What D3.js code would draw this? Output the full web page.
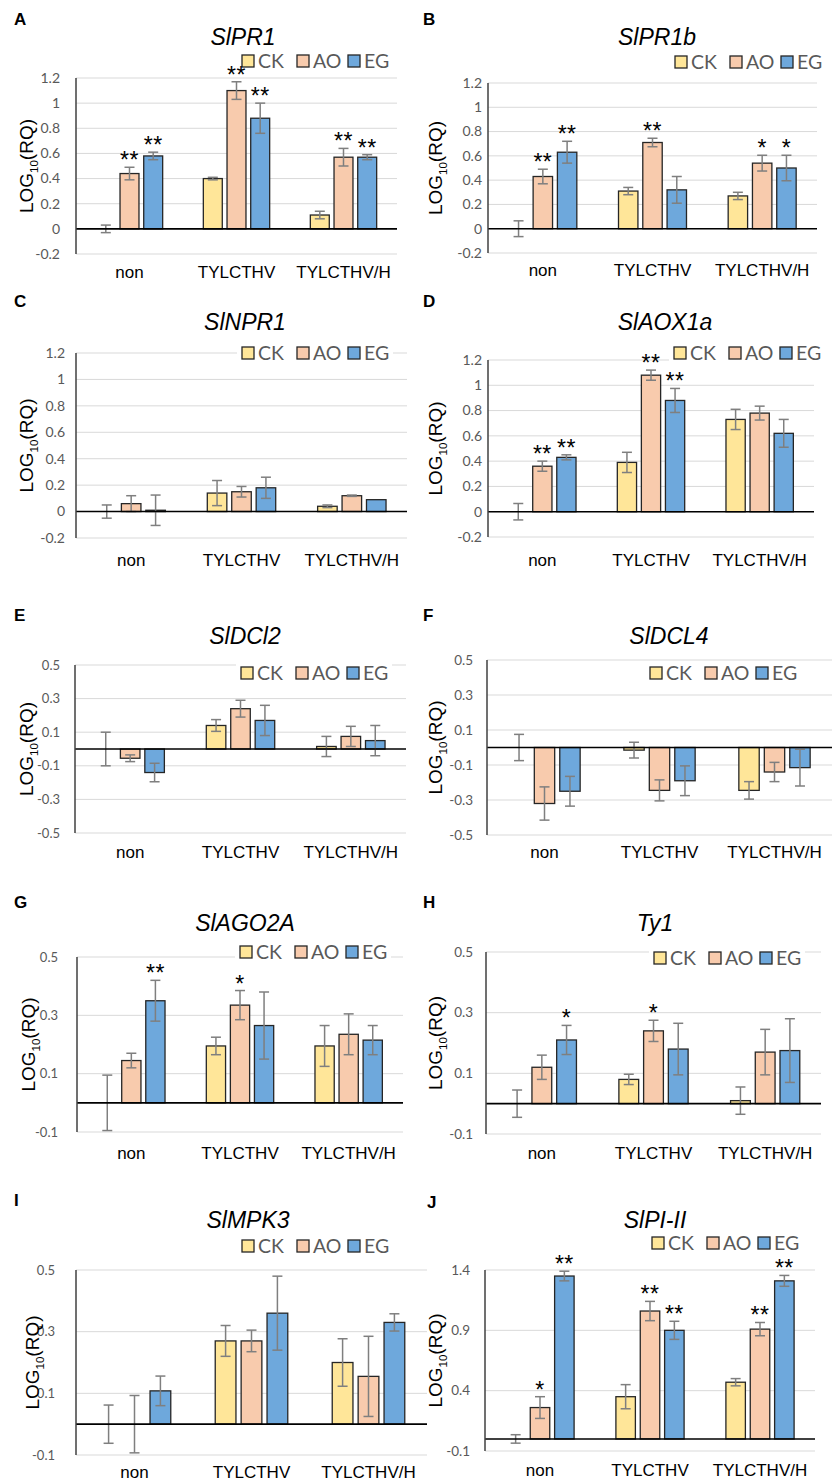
<!DOCTYPE html>
<html>
<head>
<meta charset="utf-8">
<script src="https://cdn.jsdelivr.net/npm/d3@7"></script>
<style>
  body { margin: 0; background: #fff; }
  svg { display: block; }
</style>
</head>
<body>
<script>
// categories and series shared by every panel
var categories = ["non", "TYLCTHV", "TYLCTHV/H"];
var series = ["CK", "AO", "EG"];
var seriesColors = ["#ffe699", "#f8cbad", "#6ea8dc"];

var genes = ["SlPR1", "SlPR1b", "SlNPR1", "SlAOX1a", "SlDCl2", "SlDCL4", "SlAGO2A", "Ty1", "SlMPK3", "SlPI-II"];

// y tick labels
var ticksHigh = [-0.2, 0, 0.2, 0.4, 0.6, 0.8, 1, 1.2];
var ticksSym = [-0.5, -0.3, -0.1, 0.1, 0.3, 0.5];
var ticksLow = [-0.1, 0.1, 0.3, 0.5];
var ticksPI = [-0.1, 0.4, 0.9, 1.4];

// means, rows = category, columns = CK, AO, EG
var pr1Mean = [[0, 0.44, 0.58], [0.40, 1.10, 0.88], [0.11, 0.57, 0.57]];
var pr1Err = [[0.03, 0.05, 0.03], [0.01, 0.07, 0.12], [0.03, 0.07, 0.02]];
var pr1Sig = [["", "**", "**"], ["", "**", "**"], ["", "**", "**"]];

var pr1bMean = [[0, 0.43, 0.63], [0.31, 0.71, 0.32], [0.27, 0.54, 0.50]];
var pr1bErr = [[0.065, 0.06, 0.09], [0.03, 0.035, 0.11], [0.03, 0.065, 0.105]];
var pr1bSig = [["", "**", "**"], ["", "**", ""], ["", "*", "*"]];

var npr1Mean = [[0, 0.06, 0.01], [0.14, 0.15, 0.18], [0.04, 0.12, 0.09]];
var npr1Err = [[0.05, 0.06, 0.115], [0.095, 0.04, 0.08], [0.01, 0.005, 0]];
var npr1Sig = [["", "", ""], ["", "", ""], ["", "", ""]];

var aoxMean = [[0, 0.36, 0.43], [0.39, 1.08, 0.88], [0.73, 0.78, 0.62]];
var aoxErr = [[0.065, 0.04, 0.02], [0.08, 0.04, 0.095], [0.08, 0.055, 0.11]];
var aoxSig = [["", "**", "**"], ["", "**", "**"], ["", "", ""]];

var dcl2Mean = [[0, -0.055, -0.14], [0.14, 0.24, 0.17], [0.015, 0.075, 0.05]];
var dcl2Err = [[0.10, 0.02, 0.055], [0.035, 0.05, 0.09], [0.06, 0.06, 0.09]];
var dcl2Sig = [["", "", ""], ["", "", ""], ["", "", ""]];

var dcl4Mean = [[0, -0.32, -0.25], [-0.015, -0.245, -0.19], [-0.245, -0.14, -0.115]];
var dcl4Err = [[0.075, 0.095, 0.085], [0.045, 0.06, 0.085], [0.05, 0.055, 0.105]];
var dcl4Sig = [["", "", ""], ["", "", ""], ["", "", ""]];

var agoMean = [[0, 0.145, 0.35], [0.195, 0.335, 0.265], [0.195, 0.235, 0.215]];
var agoErr = [[0.095, 0.025, 0.07], [0.03, 0.05, 0.115], [0.07, 0.07, 0.05]];
var agoSig = [["", "", "**"], ["", "*", ""], ["", "", ""]];

var ty1Mean = [[0, 0.12, 0.21], [0.08, 0.24, 0.18], [0.01, 0.17, 0.175]];
var ty1Err = [[0.045, 0.04, 0.048], [0.017, 0.035, 0.085], [0.045, 0.075, 0.105]];
var ty1Sig = [["", "", "*"], ["", "*", ""], ["", "", ""]];

var mpkMean = [[0, 0, 0.108], [0.27, 0.27, 0.36], [0.20, 0.155, 0.33]];
var mpkErr = [[0.062, 0.093, 0.048], [0.05, 0.035, 0.12], [0.077, 0.13, 0.028]];
var mpkSig = [["", "", ""], ["", "", ""], ["", "", ""]];

var piMean = [[0, 0.26, 1.35], [0.35, 1.06, 0.90], [0.47, 0.91, 1.31]];
var piErr = [[0.035, 0.09, 0.04], [0.1, 0.08, 0.075], [0.03, 0.055, 0.045]];
var piSig = [["", "*", "**"], ["", "**", "**"], ["", "**", "**"]];

var svgW = 834, svgH = 1481;

// panel layout
var panels = [
    {id: "A", gene: genes[0], mean: pr1Mean, err: pr1Err, sig: pr1Sig, ticks: ticksHigh,
     lx: 14, ly: 19, tx: 243, ty: 37, legx: 242, legy: 61, left: 76, top: 78, bottom: 254, right: 397, xly: 272, tickRight: 60, tickFs: 14, ylx: 26},
    {id: "B", gene: genes[1], mean: pr1bMean, err: pr1bErr, sig: pr1bSig, ticks: ticksHigh,
     lx: 423, ly: 19, tx: 657, ty: 37, legx: 675, legy: 62, left: 488, top: 83, bottom: 253, right: 817, xly: 270, tickRight: 482, tickFs: 14, ylx: 435},
    {id: "C", gene: genes[2], mean: npr1Mean, err: npr1Err, sig: npr1Sig, ticks: ticksHigh,
     lx: 14, ly: 301, tx: 245, ty: 322, legx: 242, legy: 353, left: 76, top: 353, bottom: 538, right: 407, xly: 560, tickRight: 65, tickFs: 14, ylx: 26},
    {id: "D", gene: genes[3], mean: aoxMean, err: aoxErr, sig: aoxSig, ticks: ticksHigh,
     lx: 423, ly: 301, tx: 665, ty: 322, legx: 674, legy: 353, left: 488, top: 360, bottom: 537, right: 814, xly: 560, tickRight: 482, tickFs: 14, ylx: 435},
    {id: "E", gene: genes[4], mean: dcl2Mean, err: dcl2Err, sig: dcl2Sig, ticks: ticksSym,
     lx: 14, ly: 615, tx: 245, ty: 636, legx: 241, legy: 673, left: 75, top: 665, bottom: 833, right: 406, xly: 852, tickRight: 60, tickFs: 13, ylx: 26},
    {id: "F", gene: genes[5], mean: dcl4Mean, err: dcl4Err, sig: dcl4Sig, ticks: ticksSym,
     lx: 423, ly: 615, tx: 669, ty: 636, legx: 650, legy: 673, left: 487, top: 660, bottom: 835, right: 832, xly: 852, tickRight: 473, tickFs: 13.5, ylx: 435},
    {id: "G", gene: genes[6], mean: agoMean, err: agoErr, sig: agoSig, ticks: ticksLow,
     lx: 14, ly: 902, tx: 245, ty: 923, legx: 240, legy: 952, left: 77, top: 957, bottom: 1132, right: 403, xly: 1153, tickRight: 58, tickFs: 13, ylx: 28},
    {id: "H", gene: genes[7], mean: ty1Mean, err: ty1Err, sig: ty1Sig, ticks: ticksLow,
     lx: 423, ly: 902, tx: 655, ty: 923, legx: 654, legy: 958, left: 486, top: 952, bottom: 1134, right: 821, xly: 1153, tickRight: 473, tickFs: 13.5, ylx: 435},
    {id: "I", gene: genes[8], mean: mpkMean, err: mpkErr, sig: mpkSig, ticks: ticksLow,
     lx: 14, ly: 1200, tx: 248, ty: 1220, legx: 242, legy: 1246, left: 76, top: 1270, bottom: 1455, right: 427, xly: 1472, tickRight: 55, tickFs: 13, ylx: 32},
    {id: "J", gene: genes[9], mean: piMean, err: piErr, sig: piSig, ticks: ticksPI,
     lx: 427, ly: 1202, tx: 655, ty: 1220, legx: 652, legy: 1243, left: 485, top: 1270, bottom: 1451, right: 815, xly: 1470, tickRight: 470, tickFs: 13.5, ylx: 435}
];

var svg = d3.select("body").append("svg")
    .attr("width", svgW)
    .attr("height", svgH);

svg.append("rect").attr("width", svgW).attr("height", svgH).attr("fill", "#fff");

var tickFormat = function (v) { return String(+v.toFixed(2)); };
var legendOffsets = [0, 55, 106];
var arial = "'Liberation Sans', Arial, sans-serif";
var calibri = "Lato, 'Open Sans', sans-serif";

/*====================================================================
       drawPanel()
       one grouped bar chart with error bars and significance stars
    ==================================================================*/
function drawPanel(p) {
    var g = svg.append("g").attr("class", "panel-" + p.id);

    var y = d3.scaleLinear()
        .domain([p.ticks[0], p.ticks[p.ticks.length - 1]])
        .range([p.bottom, p.top]);

    var x0 = d3.scaleBand()
        .domain(categories)
        .range([p.left, p.right]);

    var groupW = x0.bandwidth() * 0.62;
    var x1 = d3.scaleBand()
        .domain(series)
        .range([(x0.bandwidth() - groupW) / 2, (x0.bandwidth() + groupW) / 2])
        .paddingInner(0.2);

    // gridlines
    g.selectAll(".grid")
        .data(p.ticks)
        .enter().append("line")
        .attr("x1", p.left).attr("x2", p.right)
        .attr("y1", function (d) { return y(d); })
        .attr("y2", function (d) { return y(d); })
        .attr("stroke", "#d9d9d9")
        .attr("stroke-width", 1);

    // tick labels
    g.selectAll(".tick-label")
        .data(p.ticks)
        .enter().append("text")
        .attr("x", p.tickRight)
        .attr("y", function (d) { return y(d); })
        .attr("dy", "0.35em")
        .attr("text-anchor", "end")
        .attr("font-family", calibri)
        .attr("font-size", p.tickFs)
        .attr("fill", "#595959")
        .text(tickFormat);

    // legend (under the bars, over the gridlines)
    var leg = g.append("g").attr("transform", "translate(" + p.legx + "," + p.legy + ")");
    leg.append("rect")
        .attr("x", -5).attr("y", -12)
        .attr("width", 156).attr("height", 24)
        .attr("fill", "#fff");
    var items = leg.selectAll(".leg")
        .data(series)
        .enter().append("g")
        .attr("transform", function (d, i) { return "translate(" + legendOffsets[i] + ",0)"; });
    items.append("rect")
        .attr("x", 0).attr("y", -6)
        .attr("width", 12).attr("height", 12)
        .attr("fill", function (d, i) { return seriesColors[i]; })
        .attr("stroke", "#262626")
        .attr("stroke-width", 1.3);
    items.append("text")
        .attr("x", 16).attr("y", 0)
        .attr("dy", "0.36em")
        .attr("font-family", calibri)
        .attr("font-size", 19.5)
        .attr("fill", "#595959")
        .text(function (d) { return d; });

    // flatten the data
    var rows = [];
    categories.forEach(function (c, i) {
        series.forEach(function (s, j) {
            rows.push({cat: c, ser: s, j: j, v: p.mean[i][j], e: p.err[i][j], sig: p.sig[i][j]});
        });
    });

    // bars
    g.selectAll(".bar")
        .data(rows)
        .enter().append("rect")
        .attr("x", function (d) { return x0(d.cat) + x1(d.ser); })
        .attr("y", function (d) { return Math.min(y(d.v), y(0)); })
        .attr("width", x1.bandwidth())
        .attr("height", function (d) { return Math.abs(y(d.v) - y(0)); })
        .attr("fill", function (d) { return seriesColors[d.j]; })
        .attr("stroke", "#262626")
        .attr("stroke-width", 1.3);

    // error bars
    var eb = g.selectAll(".err")
        .data(rows.filter(function (d) { return d.e > 0; }))
        .enter().append("g")
        .attr("stroke", "#7f7f7f")
        .attr("stroke-width", 1.5);

    var cx = function (d) { return x0(d.cat) + x1(d.ser) + x1.bandwidth() / 2; };

    eb.append("line")
        .attr("x1", cx).attr("x2", cx)
        .attr("y1", function (d) { return y(d.v + d.e); })
        .attr("y2", function (d) { return y(d.v - d.e); });
    eb.append("line")
        .attr("x1", function (d) { return cx(d) - 5; })
        .attr("x2", function (d) { return cx(d) + 5; })
        .attr("y1", function (d) { return y(d.v + d.e); })
        .attr("y2", function (d) { return y(d.v + d.e); });
    eb.append("line")
        .attr("x1", function (d) { return cx(d) - 5; })
        .attr("x2", function (d) { return cx(d) + 5; })
        .attr("y1", function (d) { return y(d.v - d.e); })
        .attr("y2", function (d) { return y(d.v - d.e); });

    // significance stars
    g.selectAll(".sig")
        .data(rows.filter(function (d) { return d.sig !== ""; }))
        .enter().append("text")
        .attr("x", cx)
        .attr("y", function (d) { return y(d.v + d.e) + 1; })
        .attr("text-anchor", "middle")
        .attr("font-family", arial)
        .attr("font-size", 23)
        .attr("fill", "#000")
        .attr("letter-spacing", 0.5)
        .text(function (d) { return d.sig; });

    // zero line and y axis line
    g.append("line")
        .attr("x1", p.left).attr("x2", p.right)
        .attr("y1", y(0)).attr("y2", y(0))
        .attr("stroke", "#000")
        .attr("stroke-width", 1.6);

    g.append("line")
        .attr("x1", p.left).attr("x2", p.left)
        .attr("y1", p.top).attr("y2", p.bottom)
        .attr("stroke", "#404040")
        .attr("stroke-width", 1.5);

    // category labels
    g.selectAll(".cat")
        .data(categories)
        .enter().append("text")
        .attr("x", function (d) { return x0(d) + x0.bandwidth() / 2; })
        .attr("y", p.xly)
        .attr("dy", "0.35em")
        .attr("text-anchor", "middle")
        .attr("font-family", arial)
        .attr("font-size", 17)
        .attr("fill", "#000")
        .text(function (d) { return d; });

    // y axis title
    var yl = g.append("text")
        .attr("transform", "translate(" + p.ylx + "," + ((p.top + p.bottom) / 2) + ") rotate(-90)")
        .attr("text-anchor", "middle")
        .attr("dy", "0.35em")
        .attr("font-family", arial)
        .attr("font-size", 19)
        .attr("fill", "#000");
    yl.append("tspan").text("LOG");
    yl.append("tspan").attr("font-size", 11.5).attr("dy", 5).text("10");
    yl.append("tspan").attr("dy", -5).text("(RQ)");

    // title and panel letter
    g.append("text")
        .attr("x", p.tx).attr("y", p.ty)
        .attr("dy", "0.35em")
        .attr("text-anchor", "middle")
        .attr("font-family", arial)
        .attr("font-style", "italic")
        .attr("font-size", 23)
        .attr("fill", "#000")
        .text(p.gene);

    g.append("text")
        .attr("x", p.lx).attr("y", p.ly)
        .attr("dy", "0.35em")
        .attr("font-family", arial)
        .attr("font-weight", "bold")
        .attr("font-size", 17)
        .attr("fill", "#000")
        .text(p.id);
}

panels.forEach(drawPanel);
</script>
</body>
</html>
